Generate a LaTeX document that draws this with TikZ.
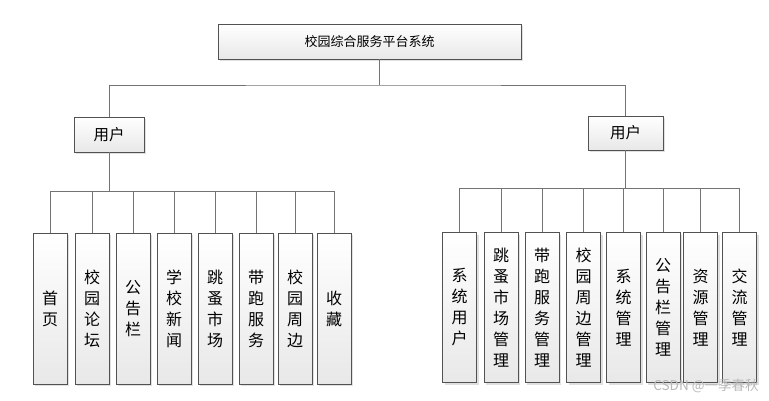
\documentclass[tikz,border=0pt]{standalone}
\usepackage{fontspec}
\newfontfamily\cjk{Noto Sans CJK SC}
\usetikzlibrary{shadows}
\begin{document}
\begin{tikzpicture}[x=1pt,y=-1pt,
  box/.style={draw=black!68, line width=0.9pt, top color=white, bottom color=black!9, inner sep=0pt, align=center, text=black,
    drop shadow={shadow xshift=2pt, shadow yshift=-2pt, fill=black!12, opacity=1}},
  leaf/.style={box, minimum width=34pt, minimum height=151pt, font=\cjk\fontsize{16}{21}\selectfont},
  conn/.style={draw=black!55, line width=0.9pt}]
\useasboundingbox (0,0) rectangle (769,400);
\node[box, minimum width=303pt, minimum height=35pt, font=\cjk\fontsize{13}{15}\selectfont] (top) at (369.5,41.5) {校园综合服务平台系统};
\node[box, minimum width=70pt, minimum height=35pt, font=\cjk\fontsize{15.5}{18}\selectfont] (uL) at (109,134.5) {用户};
\node[box, minimum width=75pt, minimum height=34pt, font=\cjk\fontsize{15.5}{18}\selectfont] (uR) at (625.5,133) {用户};
\foreach \n/\x/\t in {1/50/{首\\页}, 2/92/{校\\园\\论\\坛}, 3/133/{公\\告\\栏}, 4/174/{学\\校\\新\\闻},
  5/215/{跳\\蚤\\市\\场}, 6/256/{带\\跑\\服\\务}, 7/295/{校\\园\\周\\边}, 8/334/{收\\藏}}
  {\node[leaf] (L\n) at (\x,308.5) {\t};}
\foreach \n/\x/\t in {1/459.5/{系\\统\\用\\户}, 2/501/{跳\\蚤\\市\\场\\管\\理}, 3/542/{带\\跑\\服\\务\\管\\理}, 4/583.5/{校\\园\\周\\边\\管\\理},
  5/623.5/{系\\统\\管\\理}, 6/663/{公\\告\\栏\\管\\理}, 7/700.5/{资\\源\\管\\理}, 8/739.5/{交\\流\\管\\理}}
  {\node[leaf, minimum height=150pt] (R\n) at (\x,307.5) {\t};}
\coordinate (hub) at (379,85);
\draw[conn] (top.south -| hub) -- (hub);
\draw[conn] (uL.north) |- (hub) -| (uR.north);
\coordinate (bL) at (109,191);
\draw[conn] (uL.south) -- (uL.south |- bL);
\draw[conn] (L1.north |- bL) -- (L8.north |- bL);
\foreach \i in {1,...,8} {\draw[conn] (L\i.north |- bL) -- (L\i.north);}
\coordinate (bR) at (630,188);
\draw[conn] (uR.south) -- (uR.south |- bR);
\draw[conn] (R1.north |- bR) -- (R8.north |- bR);
\foreach \i in {1,...,8} {\draw[conn] (R\i.north |- bR) -- (R\i.north);}
\node[text=black!28, font=\cjk\fontsize{13.5}{15}\selectfont, inner sep=0pt] (wm) at (706,386) {CSDN @一季春秋};
\end{tikzpicture}
\end{document}
